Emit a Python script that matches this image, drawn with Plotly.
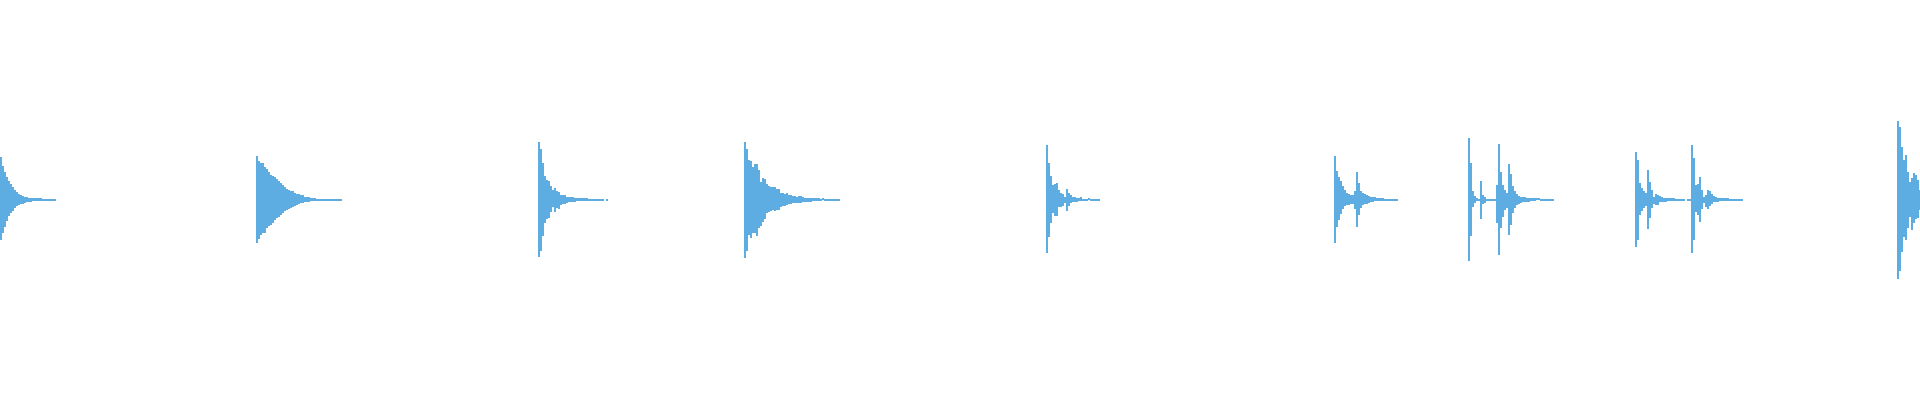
import plotly.graph_objects as go

# Peak waveform (min/max per 20 ms window), amplitude normalised to [-1, 1]
COLUMN_SEC = 0.02
DURATION_SEC = 19.2
WAVE_COLOR = "#5DADE2"

hit_onsets = [0.00, 2.56, 5.38, 7.44, 10.46, 13.34, 14.68, 16.35, 18.97]

peak_max_1 = [0.21, 0.165, 0.135, 0.11, 0.09, 0.075, 0.06, 0.045, 0.035, 0.028, 0.02, 0.015, 0.013, 0.01,
              0.008, 0.006, 0.005, 0.005, 0.005, 0.005, 0.005, 0.004, 0.004, 0.004, 0.004, 0.004, 0.004, 0.004]
peak_min_1 = [-0.205, -0.17, -0.14, -0.11, -0.085, -0.07, -0.058, -0.045, -0.035, -0.03, -0.025, -0.023, -0.018,
              -0.015, -0.015, -0.013, -0.01, -0.01, -0.008, -0.008, -0.008, -0.005, -0.005, -0.005, -0.005, -0.004,
              -0.004, -0.004]

peak_max_2 = [0.217, 0.192, 0.183, 0.183, 0.163, 0.152, 0.138, 0.122, 0.117, 0.11, 0.1, 0.092, 0.083, 0.072, 0.06,
              0.052, 0.047, 0.042, 0.042, 0.033, 0.027, 0.027, 0.02, 0.02, 0.013, 0.013, 0.01, 0.007, 0.007, 0.007,
              0.003, 0.003, 0.003, 0.003, 0.003, 0.002, 0.002, 0.002, 0.002, 0.002, 0.002, 0.002, 0.002]
peak_min_2 = [-0.217, -0.197, -0.178, -0.167, -0.167, -0.145, -0.133, -0.127, -0.117, -0.103, -0.095, -0.087, -0.078,
              -0.07, -0.058, -0.055, -0.05, -0.042, -0.04, -0.033, -0.027, -0.025, -0.02, -0.02, -0.015, -0.013,
              -0.012, -0.008, -0.008, -0.008, -0.005, -0.005, -0.005, -0.005, -0.005, -0.004, -0.004, -0.004, -0.004,
              -0.004, -0.004, -0.004, -0.004]

peak_max_3 = [0.285, 0.25, 0.18, 0.117, 0.097, 0.09, 0.067, 0.047, 0.055, 0.043, 0.035, 0.023, 0.022, 0.022, 0.013,
              0.013, 0.01, 0.012, 0.007, 0.007, 0.007, 0.007, 0.005, 0.005, 0.005, 0.003, 0.003, 0.003, 0.003, 0.003,
              0.003, 0.003, 0.003, 0.0, 0.003]
peak_min_3 = [-0.287, -0.257, -0.183, -0.117, -0.097, -0.095, -0.062, -0.04, -0.062, -0.045, -0.047, -0.028, -0.025,
              -0.025, -0.02, -0.013, -0.012, -0.012, -0.012, -0.008, -0.008, -0.007, -0.007, -0.007, -0.007, -0.004,
              -0.004, -0.004, -0.004, -0.004, -0.004, -0.004, -0.004, 0.0, -0.004]

peak_max_4 = [0.285, 0.252, 0.197, 0.192, 0.163, 0.177, 0.177, 0.147, 0.088, 0.108, 0.102, 0.077, 0.067, 0.062,
              0.062, 0.06, 0.05, 0.05, 0.033, 0.03, 0.025, 0.032, 0.022, 0.02, 0.017, 0.018, 0.013, 0.017, 0.017,
              0.013, 0.008, 0.008, 0.008, 0.008, 0.008, 0.008, 0.007, 0.005, 0.003, 0.007, 0.003, 0.002, 0.002,
              0.002, 0.002, 0.002, 0.002, 0.002]
peak_min_4 = [-0.292, -0.258, -0.178, -0.192, -0.167, -0.167, -0.183, -0.142, -0.133, -0.112, -0.1, -0.07, -0.065,
              -0.058, -0.053, -0.058, -0.053, -0.053, -0.04, -0.033, -0.033, -0.028, -0.023, -0.023, -0.02, -0.02,
              -0.017, -0.017, -0.017, -0.012, -0.012, -0.012, -0.012, -0.012, -0.008, -0.008, -0.008, -0.008, -0.005,
              -0.005, -0.005, -0.004, -0.004, -0.004, -0.004, -0.004, -0.004, -0.004]

peak_max_5 = [0.272, 0.183, 0.117, 0.072, 0.075, 0.08, 0.047, 0.03, 0.025, 0.013, 0.052, 0.03, 0.022, 0.013, 0.01,
              0.007, 0.005, 0.01, 0.003, 0.003, 0.003, 0.007, 0.002, 0.002, 0.002, 0.002, 0.002]
peak_min_5 = [-0.27, -0.187, -0.117, -0.07, -0.082, -0.082, -0.04, -0.037, -0.033, -0.02, -0.058, -0.033, -0.02,
              -0.015, -0.012, -0.012, -0.008, -0.008, -0.005, -0.005, -0.005, -0.004, -0.004, -0.004, -0.004, -0.004,
              -0.004]

peak_max_6 = [0.217, 0.143, 0.113, 0.092, 0.067, 0.047, 0.03, 0.027, 0.023, 0.022, 0.042, 0.138, 0.083, 0.043,
              0.03, 0.027, 0.022, 0.017, 0.013, 0.01, 0.01, 0.007, 0.007, 0.005, 0.005, 0.003, 0.003, 0.003, 0.002,
              0.002, 0.002, 0.002]
peak_min_6 = [-0.22, -0.137, -0.103, -0.075, -0.05, -0.033, -0.03, -0.028, -0.025, -0.023, -0.047, -0.137, -0.078,
              -0.045, -0.028, -0.023, -0.023, -0.02, -0.015, -0.015, -0.01, -0.01, -0.007, -0.007, -0.007, -0.004,
              -0.004, -0.004, -0.004, -0.004, -0.004, -0.004]

peak_max_7 = [0.308, 0.183, 0.043, 0.017, 0.005, 0.003, 0.092, 0.022, 0.013, 0.003, 0.003, 0.002, 0.002, 0.002,
              0.072, 0.277, 0.138, 0.072, 0.047, 0.03, 0.177, 0.127, 0.067, 0.043, 0.027, 0.017, 0.013, 0.012, 0.01,
              0.008, 0.008, 0.007, 0.007, 0.007, 0.005, 0.005, 0.002, 0.002, 0.002, 0.002, 0.002, 0.002, 0.002]
peak_min_7 = [-0.307, -0.183, -0.04, -0.017, -0.01, -0.007, -0.097, -0.023, -0.017, -0.008, -0.008, -0.004, -0.004,
              -0.004, -0.12, -0.278, -0.142, -0.087, -0.053, -0.045, -0.178, -0.128, -0.07, -0.045, -0.028, -0.023,
              -0.02, -0.015, -0.015, -0.012, -0.012, -0.008, -0.008, -0.008, -0.005, -0.005, -0.004, -0.004, -0.004,
              -0.004, -0.004, -0.004, -0.004]

peak_max_8 = [0.238, 0.197, 0.08, 0.058, 0.042, 0.03, 0.147, 0.088, 0.047, 0.013, 0.025, 0.022, 0.015, 0.012, 0.008,
              0.008, 0.007, 0.007, 0.005, 0.005, 0.003, 0.003, 0.003, 0.003, 0.003, 0.0, 0.003, 0.002, 0.272, 0.205,
              0.072, 0.075, 0.11, 0.048, 0.012, 0.022, 0.048, 0.042, 0.028, 0.017, 0.01, 0.008, 0.008, 0.007, 0.005,
              0.008, 0.005, 0.003, 0.003, 0.003, 0.003, 0.003, 0.003, 0.003]
peak_min_8 = [-0.237, -0.203, -0.078, -0.058, -0.045, -0.032, -0.15, -0.095, -0.045, -0.025, -0.028, -0.028, -0.015,
              -0.015, -0.012, -0.012, -0.008, -0.008, -0.007, -0.007, -0.004, -0.004, -0.004, -0.004, -0.004, 0.0,
              -0.004, -0.004, -0.27, -0.203, -0.065, -0.078, -0.115, -0.048, -0.02, -0.037, -0.048, -0.033, -0.023,
              -0.015, -0.013, -0.012, -0.01, -0.01, -0.007, -0.01, -0.007, -0.004, -0.004, -0.004, -0.004, -0.004,
              -0.004, -0.004]

peak_max_9 = [0.392, 0.363, 0.263, 0.197, 0.222, 0.138, 0.088, 0.105, 0.13, 0.122, 0.097, 0.045]
peak_min_9 = [-0.4, -0.357, -0.262, -0.187, -0.203, -0.145, -0.087, -0.153, -0.12, -0.098, -0.095, -0.053]

peak_max = [peak_max_1, peak_max_2, peak_max_3, peak_max_4, peak_max_5,
            peak_max_6, peak_max_7, peak_max_8, peak_max_9]
peak_min = [peak_min_1, peak_min_2, peak_min_3, peak_min_4, peak_min_5,
            peak_min_6, peak_min_7, peak_min_8, peak_min_9]

times, bases, spans = [], [], []
for onset, highs, lows in zip(hit_onsets, peak_max, peak_min):
    for i, (hi, lo) in enumerate(zip(highs, lows)):
        times.append(onset + COLUMN_SEC * (i + 0.5))
        bases.append(lo)
        spans.append(hi - lo)

fig = go.Figure(
    go.Bar(
        x=times,
        y=spans,
        base=bases,
        width=COLUMN_SEC,
        marker=dict(color=WAVE_COLOR, line=dict(width=0)),
        hoverinfo="skip",
    )
)

fig.update_layout(
    width=1920,
    height=400,
    margin=dict(l=0, r=0, t=0, b=0),
    paper_bgcolor="white",
    plot_bgcolor="white",
    showlegend=False,
    bargap=0,
    barmode="overlay",
    xaxis=dict(range=[0, DURATION_SEC], visible=False, fixedrange=True),
    yaxis=dict(range=[-1.0035, 0.9965], visible=False, fixedrange=True),
)

fig.write_html(
    "out.html",
    config={"displayModeBar": False},
    post_script="document.body.style.margin='0';document.body.style.overflow='hidden';",
)
